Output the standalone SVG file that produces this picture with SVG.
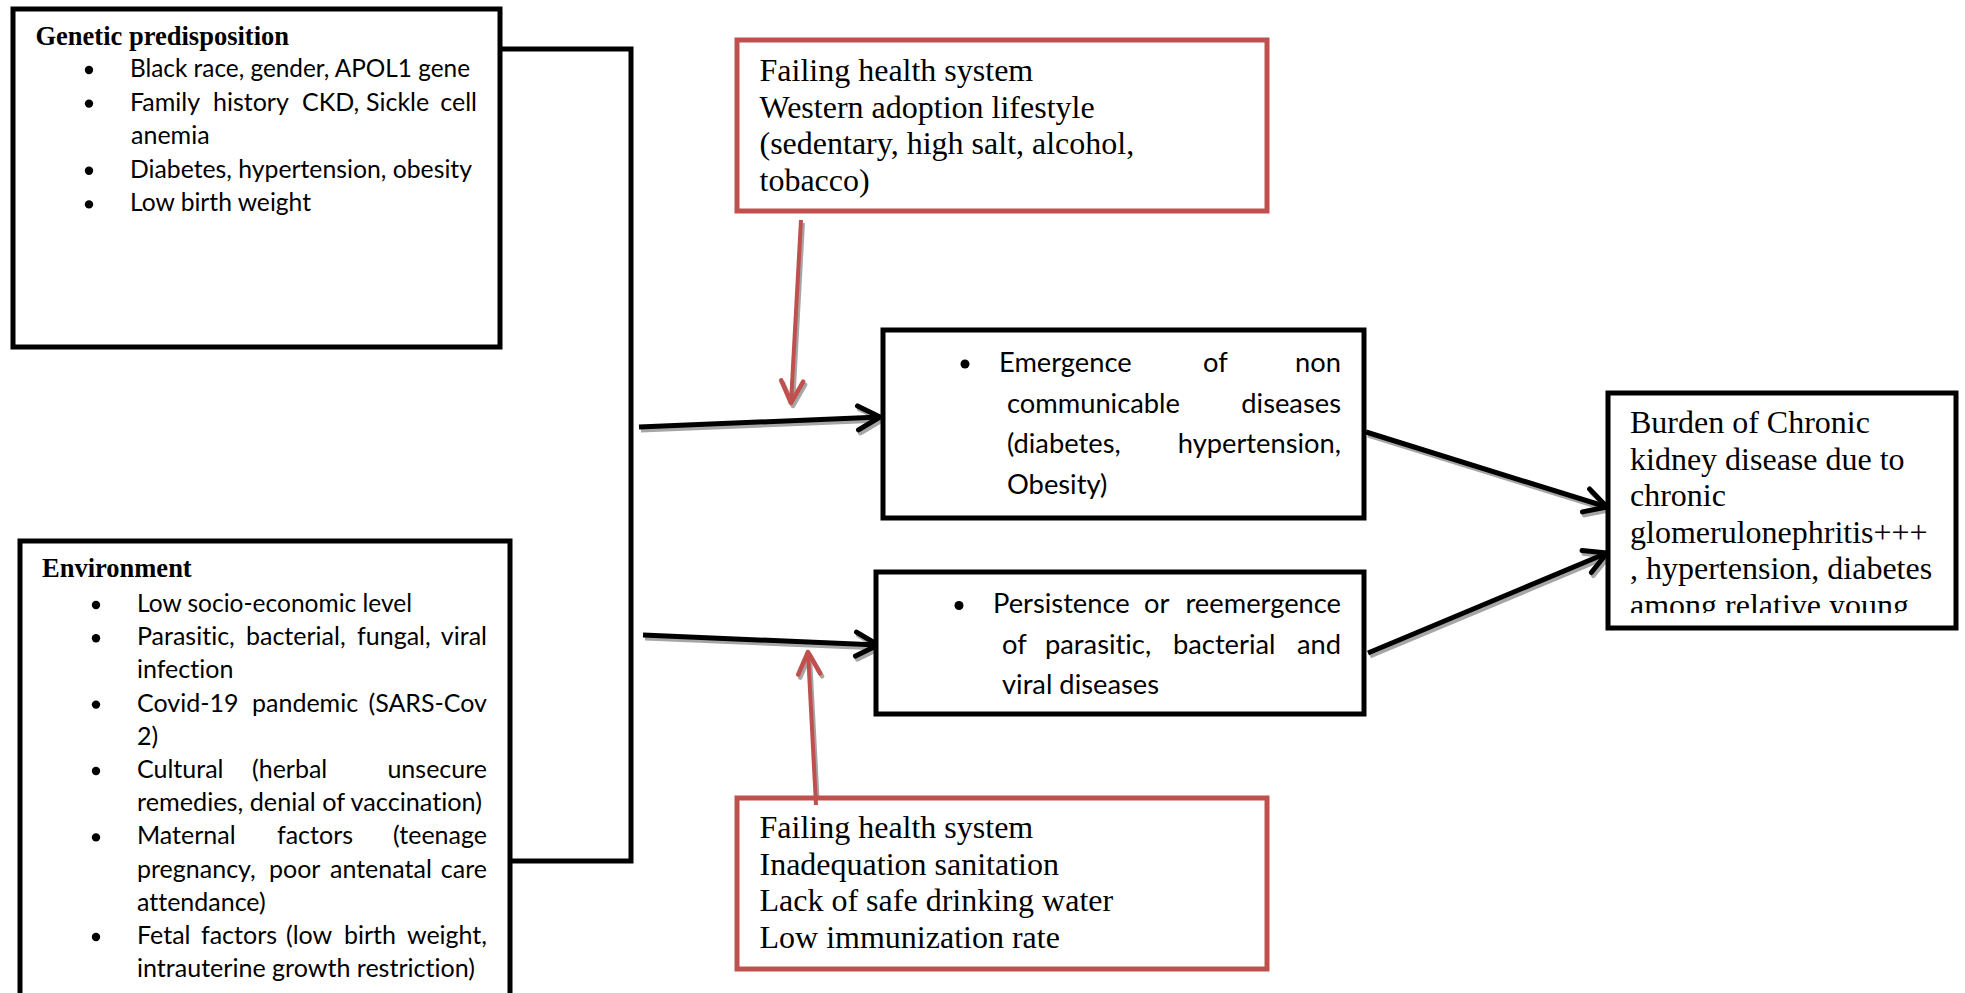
<svg xmlns="http://www.w3.org/2000/svg" width="1965" height="993" viewBox="0 0 1965 993">
<style>
.box{fill:#fff;stroke:#000;stroke-width:5}
.rbox{fill:#fff;stroke:#C0504D;stroke-width:5}
.ttl{font-family:"Liberation Serif","Times New Roman",serif;font-weight:bold;font-size:26.5px;fill:#000}
.li{font-family:Lato,"Liberation Sans",sans-serif;font-size:25px;fill:#000;font-variant-ligatures:none}
.mid{font-family:Lato,"Liberation Sans",sans-serif;font-size:27.3px;fill:#000;font-variant-ligatures:none}
.tr{font-family:"Liberation Serif","Times New Roman",serif;font-size:32px;fill:#000}
.e{text-anchor:end}
.bul{fill:#000}
.conn{fill:none;stroke:#000;stroke-width:5}
.arr{fill:none;stroke:#000;stroke-width:5;marker-end:url(#mb)}
.arrs{fill:none;stroke:#a6a6a6;stroke-width:5;marker-end:url(#mg)}
.rarr{fill:none;stroke:#C0504D;stroke-width:4;marker-end:url(#mr)}
.rarrs{fill:none;stroke:#a6a6a6;stroke-width:4;marker-end:url(#mgr)}
</style>
<defs>
<marker id="mb" viewBox="-30 -20 40 40" markerWidth="40" markerHeight="40" refX="0" refY="0" orient="auto" markerUnits="userSpaceOnUse"><path d="M-22,-12 L0,0 L-22,12" fill="none" stroke="#000" stroke-width="5" stroke-linecap="round" stroke-linejoin="round"/></marker>
<marker id="mg" viewBox="-30 -20 40 40" markerWidth="40" markerHeight="40" refX="0" refY="0" orient="auto" markerUnits="userSpaceOnUse"><path d="M-22,-12 L0,0 L-22,12" fill="none" stroke="#a6a6a6" stroke-width="5" stroke-linecap="round" stroke-linejoin="round"/></marker>
<marker id="mr" viewBox="-30 -20 40 40" markerWidth="40" markerHeight="40" refX="0" refY="0" orient="auto" markerUnits="userSpaceOnUse"><path d="M-22,-11 L0,0 L-22,11" fill="none" stroke="#C0504D" stroke-width="4.5" stroke-linecap="round" stroke-linejoin="round"/></marker>
<marker id="mgr" viewBox="-30 -20 40 40" markerWidth="40" markerHeight="40" refX="0" refY="0" orient="auto" markerUnits="userSpaceOnUse"><path d="M-22,-11 L0,0 L-22,11" fill="none" stroke="#a6a6a6" stroke-width="4.5" stroke-linecap="round" stroke-linejoin="round"/></marker>
<clipPath id="burdenClip"><rect x="1608" y="393" width="348" height="220"/></clipPath>
</defs>
<rect width="1965" height="993" fill="#fff"/>

<g id="connectors">
<path class="conn" d="M498,49 H631 V861 H508"/>
<path class="arrs" d="M641,430 L882,420"/>
<path class="arr" d="M639,427 L880,417"/>
<path class="arrs" d="M645,638 L880,648"/>
<path class="arr" d="M643,635 L878,645"/>
<path class="arrs" d="M1368,435 L1609,510"/>
<path class="arr" d="M1366,432 L1607,507"/>
<path class="arrs" d="M1370,656 L1609,556"/>
<path class="arr" d="M1368,653 L1607,553"/>
<path class="rarrs" d="M803,223 L793,406"/>
<path class="rarr" d="M801,220 L791,403"/>
<path class="rarrs" d="M818,808 L810,655"/>
</g>

<g id="node-genetic">
<rect class="box" x="13" y="9" width="487" height="338"/>
<text class="ttl" x="35.5" y="45">Genetic predisposition</text>
<circle class="bul" cx="89" cy="70" r="4.2"/>
<circle class="bul" cx="89" cy="103.6" r="4.2"/>
<circle class="bul" cx="89" cy="170.8" r="4.2"/>
<circle class="bul" cx="89" cy="204.4" r="4.2"/>
<text class="li" x="130" y="77" textLength="340" lengthAdjust="spacingAndGlyphs">Black race, gender, APOL1 gene</text>
<g class="li">
<text x="130" y="110.6">Family</text>
<text x="213" y="110.6">history</text>
<text x="302" y="110.6">CKD,</text>
<text x="366" y="110.6">Sickle</text>
<text class="e" x="477" y="110.6">cell</text>
</g>
<text class="li" x="131" y="144.2">anemia</text>
<text class="li" x="130" y="177.8" textLength="342" lengthAdjust="spacingAndGlyphs">Diabetes, hypertension, obesity</text>
<text class="li" x="130" y="211.4" textLength="181" lengthAdjust="spacingAndGlyphs">Low birth weight</text>
</g>

<g id="node-environment">
<rect class="box" x="20" y="541" width="490" height="470"/>
<text class="ttl" x="42" y="577">Environment</text>
<circle class="bul" cx="96" cy="605" r="4.2"/>
<circle class="bul" cx="96" cy="638.2" r="4.2"/>
<circle class="bul" cx="96" cy="704.6" r="4.2"/>
<circle class="bul" cx="96" cy="771" r="4.2"/>
<circle class="bul" cx="96" cy="837.4" r="4.2"/>
<circle class="bul" cx="96" cy="937" r="4.2"/>
<g class="li">
<text x="137" y="612" textLength="275" lengthAdjust="spacingAndGlyphs">Low socio-economic level</text>
<text x="137" y="645.2">Parasitic,</text>
<text x="246" y="645.2">bacterial,</text>
<text x="357" y="645.2">fungal,</text>
<text class="e" x="487" y="645.2">viral</text>
<text x="137" y="678.4">infection</text>
<text x="137" y="711.6">Covid-19</text>
<text x="252" y="711.6">pandemic</text>
<text class="e" x="487" y="711.6">(SARS-Cov</text>
<text x="137" y="744.8">2)</text>
<text x="137" y="778">Cultural</text>
<text x="252" y="778">(herbal</text>
<text class="e" x="487" y="778">unsecure</text>
<text x="137" y="811.2" textLength="345" lengthAdjust="spacingAndGlyphs">remedies, denial of vaccination)</text>
<text x="137" y="844.4">Maternal</text>
<text x="277" y="844.4">factors</text>
<text class="e" x="487" y="844.4">(teenage</text>
<text x="137" y="877.6">pregnancy,</text>
<text x="269" y="877.6">poor</text>
<text x="330" y="877.6">antenatal</text>
<text class="e" x="487" y="877.6">care</text>
<text x="137" y="910.8">attendance)</text>
<text x="137" y="944">Fetal</text>
<text x="201" y="944">factors</text>
<text x="286" y="944">(low</text>
<text x="344" y="944">birth</text>
<text class="e" x="487" y="944">weight,</text>
<text x="137" y="977.2" textLength="338" lengthAdjust="spacingAndGlyphs">intrauterine growth restriction)</text>
</g>
</g>

<g id="node-lifestyle">
<rect class="rbox" x="737" y="40" width="530" height="171"/>
<text class="tr" x="759.5" y="81">Failing health system</text>
<text class="tr" x="759.5" y="117.5">Western adoption lifestyle</text>
<text class="tr" x="759.5" y="154">(sedentary, high salt, alcohol,</text>
<text class="tr" x="759.5" y="190.5">tobacco)</text>
</g>

<g id="node-emergence">
<rect class="box" x="883" y="330" width="481" height="188"/>
<circle class="bul" cx="965" cy="364" r="4.5"/>
<g class="mid">
<text x="999" y="372">Emergence</text>
<text x="1203" y="372">of</text>
<text class="e" x="1341" y="372">non</text>
<text x="1007" y="412.5">communicable</text>
<text class="e" x="1341" y="412.5">diseases</text>
<text x="1007" y="453">(diabetes,</text>
<text class="e" x="1341" y="453">hypertension,</text>
<text x="1007" y="493.5">Obesity)</text>
</g>
</g>

<g id="node-persistence">
<rect class="box" x="876" y="572" width="488" height="142"/>
<circle class="bul" cx="959" cy="605.5" r="4.5"/>
<g class="mid">
<text x="993" y="613">Persistence</text>
<text x="1144" y="613">or</text>
<text class="e" x="1341" y="613">reemergence</text>
<text x="1002" y="653.5">of</text>
<text x="1045" y="653.5">parasitic,</text>
<text x="1173" y="653.5">bacterial</text>
<text class="e" x="1341" y="653.5">and</text>
<text x="1002" y="694">viral diseases</text>
</g>
</g>

<g id="node-sanitation">
<rect class="rbox" x="737" y="798" width="530" height="171"/>
<text class="tr" x="759.5" y="838">Failing health system</text>
<text class="tr" x="759.5" y="874.5">Inadequation sanitation</text>
<text class="tr" x="759.5" y="911">Lack of safe drinking water</text>
<text class="tr" x="759.5" y="947.5">Low immunization rate</text>
</g>
<path class="rarr" d="M816,805 L808,652"/>

<g id="node-burden">
<rect class="box" x="1608" y="393" width="348" height="235"/>
<g clip-path="url(#burdenClip)">
<text class="tr" x="1630" y="433">Burden of Chronic</text>
<text class="tr" x="1630" y="469.5">kidney disease due to</text>
<text class="tr" x="1630" y="506">chronic</text>
<text class="tr" x="1630" y="542.5">glomerulonephritis+++</text>
<text class="tr" x="1630" y="579">, hypertension, diabetes</text>
<text class="tr" x="1630" y="615.5">among relative young</text>
</g>
</g>
</svg>
